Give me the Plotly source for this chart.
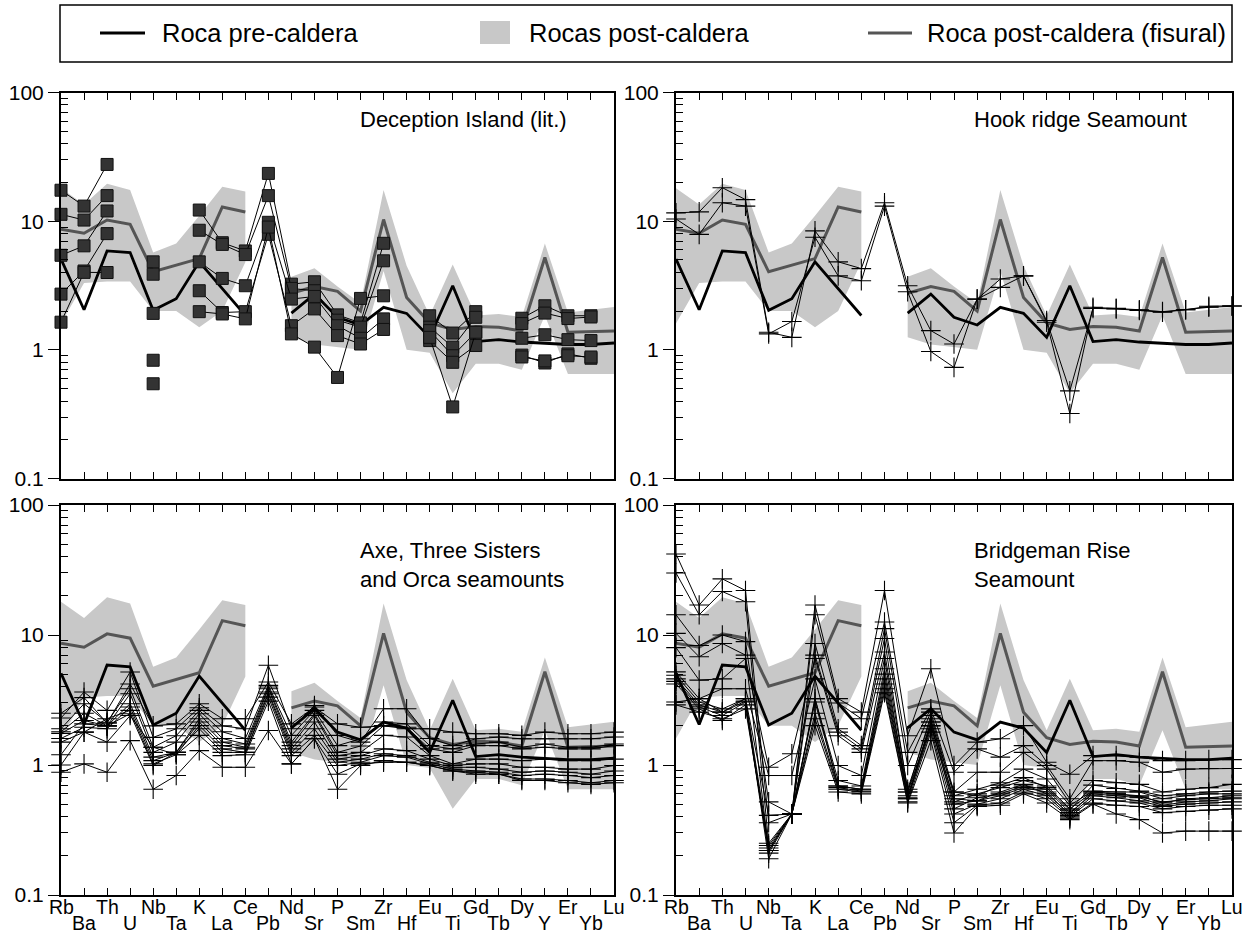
import plotly.graph_objects as go

# ---------------- data ----------------
elements = ["Rb", "Ba", "Th", "U", "Nb", "Ta", "K", "La", "Ce", "Pb", "Nd", "Sr", "P",
            "Sm", "Zr", "Hf", "Eu", "Ti", "Gd", "Tb", "Dy", "Y", "Er", "Yb", "Lu"]

pre_caldera = [5.07, 2.05, 5.87, 5.7, 2.03, 2.5, 4.83, 3.0, 1.85, None, 1.93, 2.71, 1.79,
               1.56, 2.14, 1.92, 1.25, 3.15, 1.16, 1.2, 1.15, 1.12, 1.1, 1.1, 1.13]
post_fisural = [8.65, 8.05, 10.2, 9.45, 4.04, 4.55, 5.12, 12.9, 11.8, None, 2.75, 3.1, 2.85,
                2.0, 10.3, 2.55, 1.62, 1.44, 1.52, 1.5, 1.4, 5.22, 1.37, 1.38, 1.4]
post_upper = [18, 13.5, 19.5, 17.5, 5.7, 6.7, 11, 18.5, 17, None, 3.7, 4.3, 3.1,
              2.3, 17.5, 4.5, 1.85, 4.6, 1.85, 1.9, 1.8, 6.7, 1.95, 2.05, 2.15]
post_lower = [1.6, 3.3, 3.4, 3.4, 2.0, 2.0, 1.5, 2.0, 4.8, None, 1.25, 1.1, 1.05,
              1.0, 4.1, 1.0, 0.95, 0.46, 0.78, 0.78, 0.7, 1.85, 0.65, 0.65, 0.65]

deception_1 = [17.4, 13.1, 27.6, None, 4.83, None, 12.2, 6.8, 5.87, 23.5, 3.24, 3.38, 1.87, 1.62, 6.73, None, 1.84, 1.35, 1.98, None, 1.76, 2.2, 1.84, 1.84, None]
deception_2 = [11.3, 10.2, 15.8, None, 3.87, None, 8.5, 6.6, 5.5, 15.8, 3.0, 2.88, 1.7, 1.5, 4.92, None, 1.5, 1.05, 1.79, None, 1.6, 1.93, 1.75, 1.8, None]
deception_3 = [5.43, 6.43, 12.0, None, 1.92, None, 4.83, 3.59, 3.15, 9.8, 2.48, 2.6, 1.54, 1.23, 1.74, None, 1.41, 0.9, 1.37, None, 1.23, 1.31, 1.2, 1.18, None]
deception_4 = [2.71, 4.1, 8.0, None, 0.83, None, 2.88, 1.95, 1.98, 7.9, 1.54, 2.08, 1.29, 1.11, 1.44, None, 1.18, 0.8, 1.08, None, 0.91, 0.79, 0.93, 0.86, None]
deception_5 = [1.64, 4.0, 3.99, None, 0.545, None, 1.98, 1.9, 1.74, 9.0, 1.33, 1.05, 0.61, 2.51, 2.63, None, 1.25, 0.36, 1.37, None, 0.88, 0.82, 0.9, 0.88, None]

hook_1 = [11.6, 11.8, 18.2, 14.7, 1.37, 1.25, 8.4, 4.83, 4.28, 13.9, 3.15, 1.41, 1.11, 2.48, 3.55, 3.76, 1.69, 0.48, 2.1, 2.08, 2.02, 1.96, 2.05, 2.18, 2.2]
hook_2 = [10.4, 7.9, 13.9, 13.1, 1.33, 1.66, 7.5, 3.76, 3.44, 13.1, 2.83, 0.97, 0.73, 2.48, 3.06, 3.76, 1.64, 0.32, 2.14, 2.1, 2.05, 1.98, 2.05, 2.14, 2.18]

axe_1 = [2.5, 3.3, 2.1, 4.2, 2.0, 2.07, 2.96, 2.27, 2.27, 4.35, 2.07, 2.79, 2.07, 1.95, 2.0, 1.9, 1.9, 1.79, 1.74, 1.74, 1.69, 1.79, 1.74, 1.74, 1.79]
axe_2 = [2.3, 3.64, 2.63, 5.19, 1.63, 1.9, 2.76, 2.0, 1.9, 5.85, 1.9, 2.87, 1.69, 1.5, 2.71, 2.71, 1.6, 1.41, 1.59, 1.64, 1.59, 1.59, 1.59, 1.59, 1.64]
axe_3 = [1.9, 2.96, 2.13, 3.86, 1.37, 1.68, 2.63, 1.8, 1.6, 4.1, 1.69, 2.63, 1.41, 1.59, 2.14, 2.07, 1.41, 1.33, 1.45, 1.5, 1.37, 1.45, 1.37, 1.37, 1.45]
axe_4 = [1.8, 2.5, 2.0, 3.53, 1.25, 1.5, 2.48, 1.6, 1.45, 3.98, 1.5, 2.48, 1.25, 1.4, 2.01, 1.95, 1.33, 1.25, 1.41, 1.41, 1.33, 1.37, 1.33, 1.33, 1.41]
axe_5 = [1.75, 2.2, 2.0, 2.96, 1.15, 1.25, 2.27, 1.5, 1.37, 3.86, 1.41, 2.4, 1.18, 1.25, 1.69, 1.64, 1.18, 1.02, 1.11, 1.11, 1.08, 1.11, 1.08, 1.08, 1.11]
axe_6 = [1.6, 1.95, 1.9, 2.79, 1.08, 1.25, 2.14, 1.41, 1.33, 3.64, 1.33, 2.14, 1.11, 1.18, 1.33, 1.29, 1.11, 0.99, 1.02, 1.02, 0.96, 0.96, 0.93, 0.93, 0.99]
axe_7 = [1.5, 1.79, 2.27, 2.63, 1.02, 1.2, 2.01, 1.33, 1.25, 3.53, 1.25, 1.9, 1.05, 1.11, 1.22, 1.18, 1.05, 0.96, 0.96, 0.93, 0.88, 0.9, 0.88, 0.85, 0.9]
axe_8 = [1.2, 2.07, 2.0, 2.48, 0.99, 1.25, 1.9, 1.25, 1.25, 3.33, 1.18, 1.69, 0.99, 1.05, 1.18, 1.15, 1.02, 0.93, 0.9, 0.88, 0.83, 0.85, 0.83, 0.8, 0.83]
axe_9 = [1.0, 1.79, 1.5, 2.4, 1.37, 1.2, 1.69, 1.18, 1.2, 3.1, 1.02, 1.59, 0.85, 1.02, 1.05, 1.05, 0.99, 0.9, 0.85, 0.85, 0.78, 0.78, 0.76, 0.73, 0.76]
axe_10 = [0.88, 1.02, 0.88, 1.54, 0.65, 0.83, 1.29, 0.96, 0.96, 1.84, 1.02, 1.59, 0.65, 0.99, 1.08, 1.05, 0.99, 0.9, 0.88, 0.85, 0.76, 0.76, 0.73, 0.71, 0.73]

bridgeman_1 = [42, 17, 27, 22, 0.36, 0.42, 17, 3.24, 2.55, 22, 1.68, 5.5, 0.99, 1.5, 1.59, 2.01, 1.05, 0.85, 1.18, 1.18, 1.15, 1.08, 1.08, 1.1, 1.1]
bridgeman_2 = [30, 14.3, 21.6, 18, 0.25, 0.42, 14.3, 3.0, 2.27, 12.6, 1.25, 2.7, 0.88, 1.33, 1.15, 1.41, 0.99, 0.55, 1.08, 1.08, 1.05, 0.88, 0.93, 0.94, 0.94]
bridgeman_3 = [14.3, 8.3, 10, 8.9, 0.52, 0.42, 8.6, 1.9, 1.41, 11.2, 0.99, 2.55, 0.62, 0.88, 0.88, 1.25, 0.93, 0.51, 0.76, 0.73, 0.71, 0.62, 0.65, 0.67, 0.71]
bridgeman_4 = [10.3, 6.8, 8.6, 7.0, 0.22, 0.42, 7.0, 1.79, 1.33, 9.4, 0.62, 2.4, 0.58, 0.65, 0.73, 0.93, 0.78, 0.49, 0.63, 0.62, 0.62, 0.55, 0.58, 0.6, 0.6]
bridgeman_5 = [8.0, 4.5, 4.6, 6.6, 0.96, 1.22, 6.6, 1.68, 1.25, 7.4, 0.65, 2.27, 0.52, 0.6, 0.67, 0.76, 0.69, 0.46, 0.62, 0.6, 0.58, 0.51, 0.55, 0.56, 0.58]
bridgeman_6 = [5.2, 3.24, 3.86, 3.86, 0.83, 0.83, 4.6, 0.99, 0.83, 6.6, 0.55, 2.14, 0.46, 0.56, 0.6, 0.69, 0.65, 0.43, 0.6, 0.58, 0.56, 0.49, 0.52, 0.53, 0.55]
bridgeman_7 = [4.9, 3.05, 2.7, 3.24, 0.41, 0.42, 3.24, 0.76, 0.69, 5.5, 0.62, 2.01, 0.55, 0.53, 0.58, 0.67, 0.62, 0.41, 0.58, 0.56, 0.53, 0.48, 0.5, 0.51, 0.52]
bridgeman_8 = [4.6, 2.9, 2.55, 3.1, 0.21, 0.42, 3.05, 0.69, 0.65, 4.6, 0.55, 1.9, 0.42, 0.5, 0.55, 0.65, 0.58, 0.4, 0.55, 0.53, 0.51, 0.46, 0.48, 0.49, 0.49]
bridgeman_9 = [4.4, 2.8, 2.4, 3.05, 0.19, 0.42, 2.27, 0.65, 0.62, 3.86, 0.52, 1.79, 0.36, 0.49, 0.51, 0.62, 0.55, 0.39, 0.51, 0.49, 0.48, 0.43, 0.44, 0.45, 0.46]
bridgeman_10 = [4.2, 2.7, 2.2, 2.9, 0.22, 0.42, 2.01, 0.62, 0.6, 3.6, 0.51, 1.54, 0.3, 0.48, 0.49, 0.6, 0.51, 0.38, 0.5, 0.42, 0.38, 0.3, 0.31, 0.31, 0.31]
bridgeman_11 = [3.05, 3.24, 2.55, 3.24, 0.24, 0.42, 3.24, 0.69, 0.65, 5.0, 0.58, 2.14, 0.62, 0.58, 0.7, 0.8, 0.67, 0.45, 0.7, 0.66, 0.63, 0.58, 0.6, 0.62, 0.63]
bridgeman_12 = [2.9, 2.55, 2.27, 2.7, 0.23, 0.42, 2.5, 0.67, 0.63, 4.2, 0.56, 2.0, 0.5, 0.53, 0.62, 0.71, 0.6, 0.42, 0.62, 0.6, 0.57, 0.52, 0.54, 0.55, 0.56]

panel_titles = ["Deception Island (lit.)", "Hook ridge Seamount",
                "Axe, Three Sisters<br>and Orca seamounts", "Bridgeman Rise<br>Seamount"]
legend_labels = ["Roca pre-caldera", "Rocas post-caldera", "Roca post-caldera (fisural)"]
y_tick_values = [0.1, 1, 10, 100]
y_tick_labels = ["0.1", "1", "10", "100"]

# ---------------- layout helpers ----------------
W, H = 1244, 934
FONT = "Liberation Sans, Arial, sans-serif"
def fx(p):
    return p / W
def fy(p):
    return 1 - p / H

panels = [
    dict(samples=[deception_1, deception_2, deception_3, deception_4, deception_5], symbol="square",
         ax="x", ay="y", xdom=(61, 614), ydom=(92.5, 478.5), tx=358, ty=[120]),
    dict(samples=[hook_1, hook_2], symbol="cross-thin",
         ax="x2", ay="y2", xdom=(676, 1232), ydom=(92.5, 478.5), tx=972, ty=[120]),
    dict(samples=[axe_1, axe_2, axe_3, axe_4, axe_5, axe_6, axe_7, axe_8, axe_9, axe_10], symbol="cross-thin",
         ax="x3", ay="y3", xdom=(61, 614), ydom=(505, 895), tx=358, ty=[565]),
    dict(samples=[bridgeman_1, bridgeman_2, bridgeman_3, bridgeman_4, bridgeman_5, bridgeman_6,
                  bridgeman_7, bridgeman_8, bridgeman_9, bridgeman_10, bridgeman_11, bridgeman_12],
         symbol="cross-thin", ax="x4", ay="y4", xdom=(676, 1232), ydom=(505, 895), tx=972, ty=[565]),
]

xs = list(range(len(elements)))
minor_vals = [m * d for d in (0.1, 1, 10) for m in range(2, 10)]

fig = go.Figure()
annotations = []
shapes = []

for k, p in enumerate(panels):
    # post-caldera band, split where data are missing
    segs, cur = [], []
    for i in xs:
        if post_upper[i] is None:
            if cur:
                segs.append(cur)
            cur = []
        else:
            cur.append(i)
    if cur:
        segs.append(cur)
    for s in segs:
        fig.add_trace(go.Scatter(
            x=s + s[::-1], y=[post_upper[i] for i in s] + [post_lower[i] for i in s[::-1]],
            fill="toself", fillcolor="#c8c8c8", mode="lines", line=dict(width=0),
            name=legend_labels[1], showlegend=False, hoverinfo="skip",
            xaxis=p["ax"], yaxis=p["ay"]))
    fig.add_trace(go.Scatter(x=xs, y=post_fisural, mode="lines", line=dict(color="#555555", width=3),
                             name=legend_labels[2], showlegend=False, connectgaps=False,
                             xaxis=p["ax"], yaxis=p["ay"]))
    fig.add_trace(go.Scatter(x=xs, y=pre_caldera, mode="lines", line=dict(color="#000000", width=2.8),
                             name=legend_labels[0], showlegend=False, connectgaps=False,
                             xaxis=p["ax"], yaxis=p["ay"]))
    for j, smp in enumerate(p["samples"]):
        if p["symbol"] == "square":
            mk = dict(symbol="square", size=12, color="#333333", line=dict(color="#111111", width=1))
        else:
            mk = dict(symbol="cross-thin", size=14, color="#000000", line=dict(color="#000000", width=1.1))
        fig.add_trace(go.Scatter(x=xs, y=smp, mode="lines+markers", line=dict(color="#000000", width=1),
                                 marker=mk, connectgaps=False, cliponaxis=False, showlegend=False,
                                 name=f"sample {j+1}", xaxis=p["ax"], yaxis=p["ay"]))

    sfx = "" if k == 0 else str(k + 1)
    fig.update_layout(**{
        "xaxis" + sfx: dict(domain=[fx(p["xdom"][0]), fx(p["xdom"][1])], range=[0, len(elements) - 1],
                            anchor=p["ay"], tickmode="array", tickvals=xs, showticklabels=False,
                            ticks="inside", ticklen=7, tickwidth=1.3, tickcolor="black",
                            showline=True, linecolor="black", linewidth=2, mirror="ticks",
                            showgrid=False, zeroline=False, automargin=False),
        "yaxis" + sfx: dict(domain=[fy(p["ydom"][1]), fy(p["ydom"][0])], type="log", range=[-1, 2],
                            anchor=p["ax"], tickmode="array", tickvals=y_tick_values, ticktext=y_tick_labels,
                            ticks="outside", ticklen=11, tickwidth=1.3, tickcolor="black",
                            tickfont=dict(size=21, color="black", family=FONT),
                            minor=dict(tickmode="array", tickvals=minor_vals, ticks="inside", ticklen=7,
                                       tickwidth=1.3, tickcolor="black", showgrid=False),
                            showline=True, linecolor="black", linewidth=2, mirror=True,
                            showgrid=False, zeroline=False, automargin=False),
    })
    annotations.append(dict(text=panel_titles[k], xref="paper", yref="paper", x=fx(p["tx"]),
                            y=fy(p["ty"][0]), xanchor="left", yanchor="middle", align="left",
                            showarrow=False, font=dict(size=22, color="black", family=FONT)))
    if k >= 2:
        for i, el in enumerate(elements):
            annotations.append(dict(text=el, xref=p["ax"], yref="paper", x=i,
                                    y=fy(906.5 if i % 2 == 0 else 922.5), xanchor="center", yanchor="middle",
                                    showarrow=False, font=dict(size=19.5, color="black", family=FONT)))

# legend (drawn box with symbols and labels)
shapes.append(dict(type="rect", xref="paper", yref="paper", x0=fx(60), x1=fx(1232), y0=fy(62), y1=fy(5),
                   line=dict(color="black", width=1.5), fillcolor="white"))
shapes.append(dict(type="line", xref="paper", yref="paper", x0=fx(100), x1=fx(145), y0=fy(33), y1=fy(33),
                   line=dict(color="black", width=3)))
shapes.append(dict(type="rect", xref="paper", yref="paper", x0=fx(480), x1=fx(510), y0=fy(44), y1=fy(21),
                   line=dict(width=0), fillcolor="#c8c8c8"))
shapes.append(dict(type="line", xref="paper", yref="paper", x0=fx(868), x1=fx(912), y0=fy(33), y1=fy(33),
                   line=dict(color="#555555", width=3)))
for lbl, xp in zip(legend_labels, (160, 527, 925)):
    annotations.append(dict(text=lbl, xref="paper", yref="paper", x=fx(xp), y=fy(33), xanchor="left",
                            yanchor="middle", showarrow=False, font=dict(size=25.5, color="black", family=FONT)))

fig.update_layout(width=W, height=H, margin=dict(l=0, r=0, t=0, b=0, pad=0, autoexpand=False),
                  autosize=False, paper_bgcolor="white", plot_bgcolor="white", showlegend=False,
                  annotations=annotations, shapes=shapes,
                  font=dict(family=FONT, color="black"))

fig.write_html("out.html")
